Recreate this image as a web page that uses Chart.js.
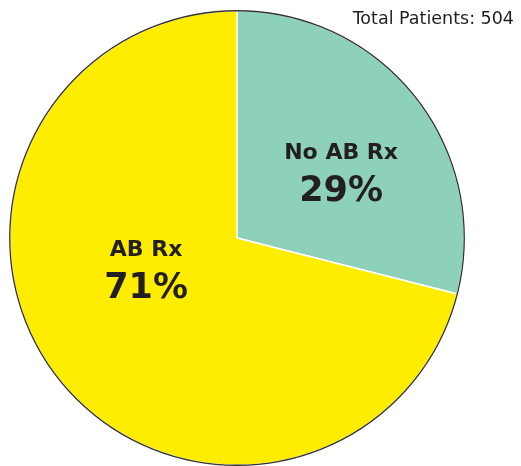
<!DOCTYPE html>
<html>
<head>
<meta charset="utf-8">
<script src="https://cdn.jsdelivr.net/npm/chart.js@4"></script>
<style>
  html, body { margin: 0; padding: 0; background: #fff; }
  canvas { display: block; }
</style>
</head>
<body>
<canvas id="pie" width="521" height="466"></canvas>
<script>
// Antibiotic prescription split
const categories = ['No AB Rx', 'AB Rx'];
const patients = [146, 358];
const totalPatients = 504;
const sliceColors = ['#8DD1BB', '#FFED00'];

const textColor = '#231F20';
const fontFamily = '"DejaVu Sans", Verdana, sans-serif';

// Label block centres (relative to pie centre, in units of radius)
const labelAnchors = [
  { dx: 0.458, dy: -0.256 },
  { dx: -0.40, dy: 0.17 }
];

const overlay = {
  id: 'overlay',
  afterDatasetsDraw(chart) {
    const ctx = chart.ctx;
    const meta = chart.getDatasetMeta(0);
    const arc0 = meta.data[0];
    const cx = arc0.x, cy = arc0.y, r = arc0.outerRadius;

    // dark outer rim
    ctx.save();
    ctx.beginPath();
    ctx.arc(cx, cy, r, 0, Math.PI * 2);
    ctx.lineWidth = 1.3;
    ctx.strokeStyle = '#333';
    ctx.stroke();

    // slice labels
    const sum = patients.reduce((a, b) => a + b, 0);
    ctx.fillStyle = textColor;
    ctx.textAlign = 'center';
    ctx.textBaseline = 'alphabetic';
    meta.data.forEach((el, i) => {
      const a = labelAnchors[i];
      const x = cx + a.dx * r;
      const y = cy + a.dy * r;
      ctx.font = 'bold 22px ' + fontFamily;
      ctx.fillText(categories[i], x, y - 21);
      ctx.font = 'bold 35px ' + fontFamily;
      ctx.fillText(Math.round(patients[i] / sum * 100) + '%', x, y + 21);
    });

    // total in the corner
    ctx.font = '17.5px ' + fontFamily;
    ctx.textAlign = 'right';
    ctx.fillText('Total Patients: ' + totalPatients, 514, 24);
    ctx.restore();
  }
};

new Chart(document.getElementById('pie'), {
  type: 'pie',
  data: {
    labels: categories,
    datasets: [{
      data: patients,
      backgroundColor: sliceColors,
      borderColor: '#ffffff',
      borderWidth: 1.5
    }]
  },
  options: {
    responsive: false,
    animation: false,
    devicePixelRatio: 1,
    layout: { padding: { left: 9, right: 56, top: 10, bottom: 0 } },
    plugins: {
      legend: { display: false },
      tooltip: { enabled: false },
      title: { display: false }
    }
  },
  plugins: [overlay]
});
</script>
</body>
</html>
